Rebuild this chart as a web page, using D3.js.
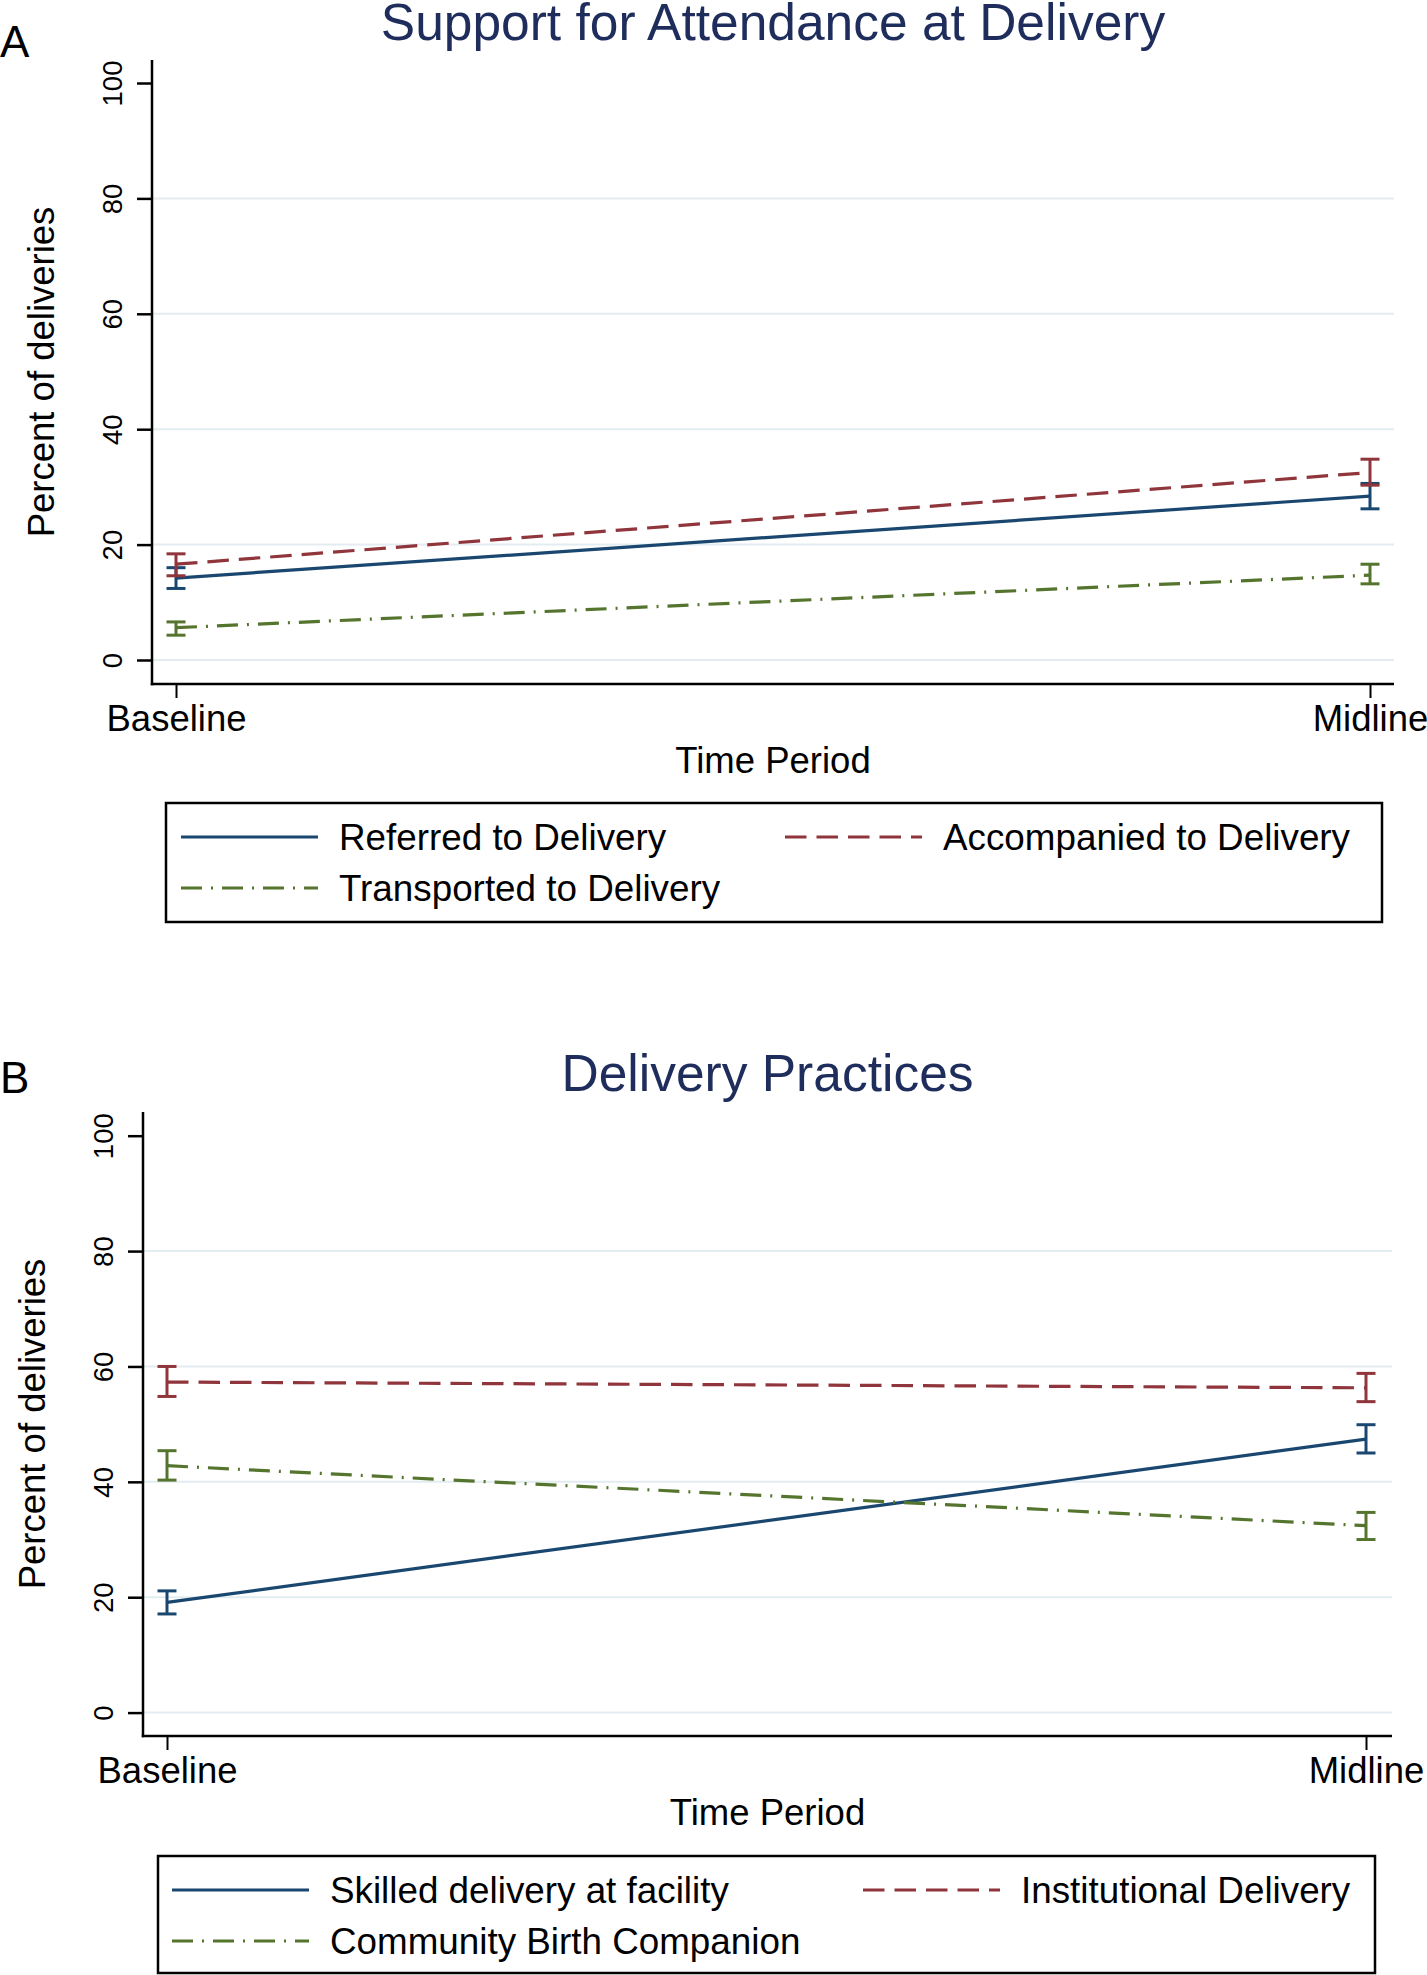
<!DOCTYPE html>
<html>
<head>
<meta charset="utf-8">
<script src="https://cdn.jsdelivr.net/npm/d3@7"></script>
<style>
  html, body { margin: 0; padding: 0; background: #ffffff; }
  svg { display: block; }
  text { font-family: "Liberation Sans", Arial, Helvetica, sans-serif; }
</style>
</head>
<body>
<svg id="chart" width="1427" height="1975"></svg>
<script>
// ---------------- DATA ----------------
const periods = ["Baseline", "Midline"];
const yTickValues = [0, 20, 40, 60, 80, 100];
const gridValues = [0, 20, 40, 60, 80];

// Panel A: Support for Attendance at Delivery
const titleA = "Support for Attendance at Delivery";
const referredMean = [14.2, 28.4];
const referredLow  = [12.4, 26.2];
const referredHigh = [16.0, 30.6];
const accompaniedMean = [16.6, 32.5];
const accompaniedLow  = [14.6, 30.3];
const accompaniedHigh = [18.4, 34.8];
const transportedMean = [5.6, 14.7];
const transportedLow  = [4.3, 13.2];
const transportedHigh = [6.6, 16.6];
const seriesNamesA = ["Referred to Delivery", "Accompanied to Delivery", "Transported to Delivery"];

// Panel B: Delivery Practices
const titleB = "Delivery Practices";
const skilledMean = [19.1, 47.4];
const skilledLow  = [17.1, 45.0];
const skilledHigh = [21.1, 49.9];
const institutionalMean = [57.3, 56.3];
const institutionalLow  = [54.8, 53.9];
const institutionalHigh = [60.0, 58.8];
const communityMean = [42.8, 32.4];
const communityLow  = [40.3, 30.0];
const communityHigh = [45.4, 34.7];
const seriesNamesB = ["Skilled delivery at facility", "Institutional Delivery", "Community Birth Companion"];

const yAxisTitle = "Percent of deliveries";
const xAxisTitle = "Time Period";

// ---------------- STYLE ----------------
const BLUE = "#1a476f", RED = "#90353b", GREEN = "#55752f";
const TITLE_COLOR = "#1e2d5c";
const GRID_COLOR = "#e3ecf0";
const styles = [
  { color: BLUE, dash: null },
  { color: RED, dash: "21.5,10" },
  { color: GREEN, dash: "21,9,2,9" }
];

const svg = d3.select("#chart");

function drawPanel(cfg, series, names, title, letter) {
  const g = svg.append("g");
  const y = d3.scaleLinear().domain([0, 100]).range([cfg.y0, cfg.y100]);
  const x = d3.scalePoint().domain(periods).range([cfg.xFirst, cfg.xLast]);

  // gridlines
  g.append("g").selectAll("line").data(gridValues).join("line")
    .attr("x1", cfg.left).attr("x2", cfg.right)
    .attr("y1", d => y(d)).attr("y2", d => y(d))
    .attr("stroke", GRID_COLOR).attr("stroke-width", 2);

  // y axis
  const ya = g.append("g").attr("transform", `translate(${cfg.left},0)`)
    .call(d3.axisLeft(y).tickValues(yTickValues).tickSize(15).tickPadding(0).tickFormat(d3.format("d")));
  ya.select(".domain").remove();
  ya.selectAll(".tick line").attr("stroke", "#000").attr("stroke-width", 2.5);
  ya.selectAll(".tick text")
    .attr("font-size", 27.5).attr("fill", "#000")
    .attr("text-anchor", "middle")
    .attr("x", null).attr("dy", null)
    .attr("transform", "translate(-30,0) rotate(-90)");

  // x axis
  const xa = g.append("g").attr("transform", `translate(0,${cfg.bottom})`)
    .call(d3.axisBottom(x).tickSize(14).tickPadding(0));
  xa.select(".domain").remove();
  xa.selectAll(".tick line").attr("stroke", "#000").attr("stroke-width", 2);
  xa.selectAll(".tick text")
    .attr("font-size", 36.5).attr("fill", "#000")
    .attr("y", 47).attr("dy", null);

  // axis lines
  g.append("line").attr("x1", cfg.left).attr("x2", cfg.left)
    .attr("y1", cfg.top).attr("y2", cfg.bottom + 1.25)
    .attr("stroke", "#000").attr("stroke-width", 2.5);
  g.append("line").attr("x1", cfg.left - 1.25).attr("x2", cfg.right)
    .attr("y1", cfg.bottom).attr("y2", cfg.bottom)
    .attr("stroke", "#000").attr("stroke-width", 2.5);

  // series lines
  const line = d3.line().x((d, i) => x(periods[i])).y(d => y(d));
  series.forEach((s, k) => {
    const p = g.append("path").datum(s.mean)
      .attr("d", line).attr("fill", "none")
      .attr("stroke", styles[k].color).attr("stroke-width", 3.2);
    if (styles[k].dash) p.attr("stroke-dasharray", styles[k].dash);
  });

  // error bars
  const capHalf = 9.5;
  series.forEach((s, k) => {
    periods.forEach((per, i) => {
      const cx = x(per);
      const eb = g.append("g").attr("stroke", styles[k].color).attr("stroke-width", 3);
      eb.append("line").attr("x1", cx).attr("x2", cx).attr("y1", y(s.low[i])).attr("y2", y(s.high[i]));
      eb.append("line").attr("x1", cx - capHalf).attr("x2", cx + capHalf).attr("y1", y(s.low[i])).attr("y2", y(s.low[i]));
      eb.append("line").attr("x1", cx - capHalf).attr("x2", cx + capHalf).attr("y1", y(s.high[i])).attr("y2", y(s.high[i]));
    });
  });

  const cxPlot = (cfg.left + cfg.right) / 2;
  const cyPlot = (cfg.top + cfg.bottom) / 2;

  // title
  g.append("text").attr("x", cxPlot).attr("y", cfg.titleY)
    .attr("text-anchor", "middle").attr("font-size", 51.5).attr("fill", TITLE_COLOR).text(title);

  // panel letter
  g.append("text").attr("x", 0).attr("y", cfg.letterY)
    .attr("font-size", 44).attr("fill", "#000").text(letter);

  // axis titles
  g.append("text").attr("transform", `translate(${cfg.left - 98},${cyPlot}) rotate(-90)`)
    .attr("text-anchor", "middle").attr("font-size", 36.5).attr("fill", "#000").text(yAxisTitle);
  g.append("text").attr("x", cxPlot).attr("y", cfg.bottom + 89)
    .attr("text-anchor", "middle").attr("font-size", 36.5).attr("fill", "#000").text(xAxisTitle);

  // legend
  g.append("rect").attr("x", cfg.legLeft).attr("y", cfg.legTop)
    .attr("width", cfg.legRight - cfg.legLeft).attr("height", cfg.legBottom - cfg.legTop)
    .attr("fill", "#fff").attr("stroke", "#000").attr("stroke-width", 2.5);
  const pos = [
    { lx: cfg.legLeft + cfg.c1, row: 0 },
    { lx: cfg.legLeft + cfg.c2, row: 0 },
    { lx: cfg.legLeft + cfg.c1, row: 1 }
  ];
  names.forEach((nm, k) => {
    const cy = cfg.legTop + (pos[k].row === 0 ? 34 : 85);
    const l = g.append("line").attr("x1", pos[k].lx).attr("x2", pos[k].lx + 137)
      .attr("y1", cy).attr("y2", cy)
      .attr("stroke", styles[k].color).attr("stroke-width", 3.2);
    if (styles[k].dash) l.attr("stroke-dasharray", styles[k].dash);
    g.append("text").attr("x", pos[k].lx + 158).attr("y", cy + 13)
      .attr("font-size", 36.8).attr("fill", "#000").text(nm);
  });
}

const layoutA = { left: 152, right: 1394, top: 60, bottom: 684, y0: 660, y100: 83,
  xFirst: 176, xLast: 1370, titleY: 40, letterY: 57,
  legLeft: 166, legRight: 1382, legTop: 803, legBottom: 922, c1: 15, c2: 619 };
const layoutB = { left: 143, right: 1392, top: 1112, bottom: 1736, y0: 1712.6, y100: 1135.7,
  xFirst: 167, xLast: 1366, titleY: 1091, letterY: 1093,
  legLeft: 158, legRight: 1375, legTop: 1856, legBottom: 1973, c1: 14, c2: 705 };

drawPanel(layoutA, [
  { mean: referredMean, low: referredLow, high: referredHigh },
  { mean: accompaniedMean, low: accompaniedLow, high: accompaniedHigh },
  { mean: transportedMean, low: transportedLow, high: transportedHigh }
], seriesNamesA, titleA, "A");

drawPanel(layoutB, [
  { mean: skilledMean, low: skilledLow, high: skilledHigh },
  { mean: institutionalMean, low: institutionalLow, high: institutionalHigh },
  { mean: communityMean, low: communityLow, high: communityHigh }
], seriesNamesB, titleB, "B");
</script>
</body>
</html>
